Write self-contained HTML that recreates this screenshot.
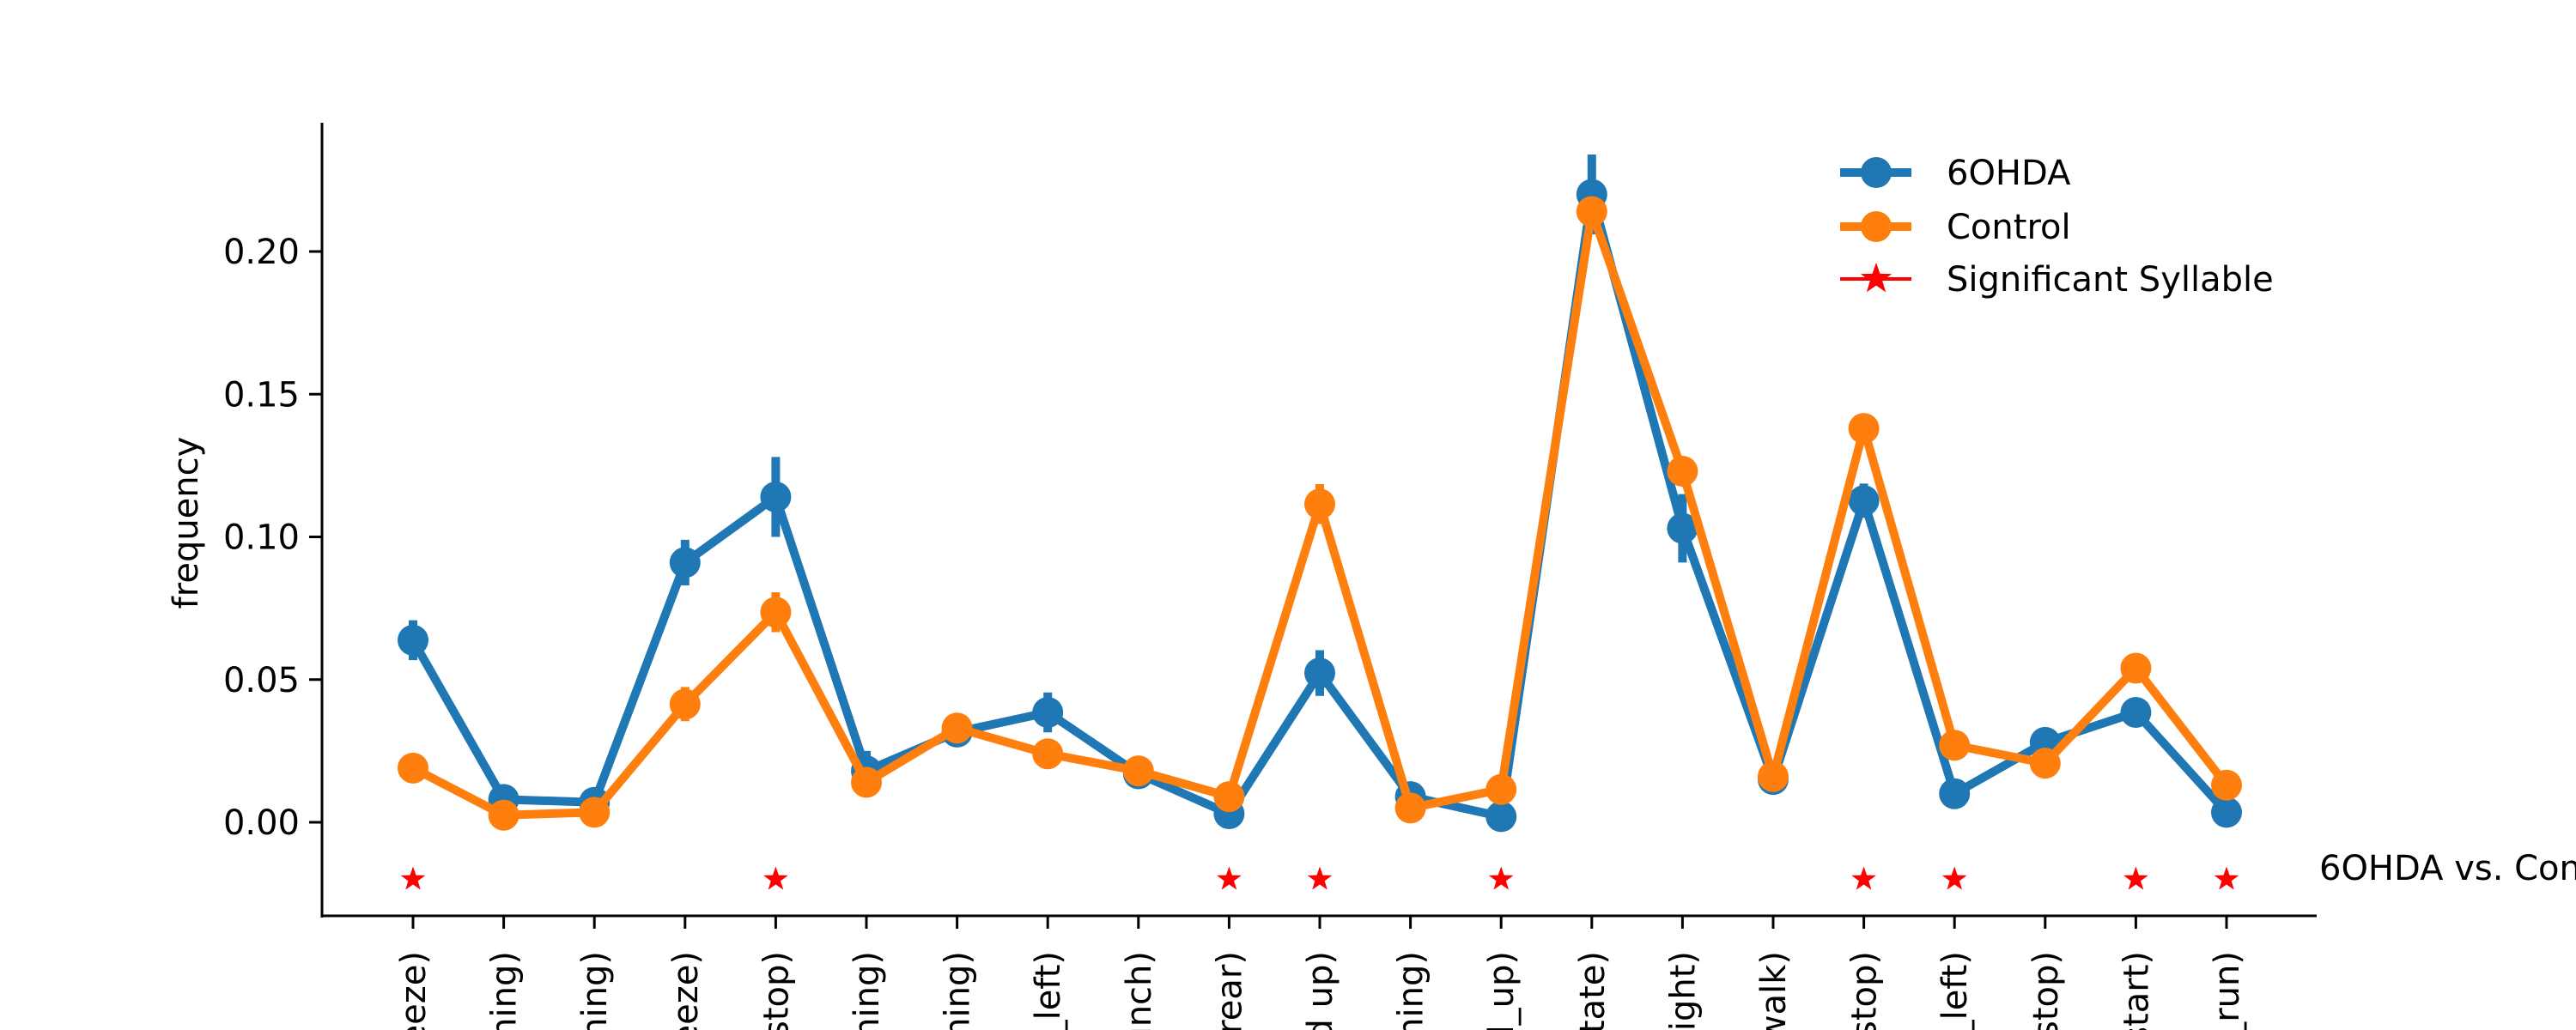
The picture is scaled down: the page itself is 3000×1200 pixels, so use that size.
<!DOCTYPE html>
<html><head><meta charset="utf-8"><style>
html,body{margin:0;padding:0;background:#fff;width:3000px;height:1200px;overflow:hidden}
svg{display:block}
svg text{font-family:"DejaVu Sans","Liberation Sans",sans-serif}
</style></head><body>
<svg id="chart" width="3000" height="1200" viewBox="0 0 3000 1200" xmlns="http://www.w3.org/2000/svg">
<defs><clipPath id="frame"><rect x="0" y="0" width="3000" height="1200"/></clipPath></defs>
<g id="plot" clip-path="url(#frame)"></g>
</svg>
<script>
const categories=["syllable 0 (freeze)","syllable 1 (turning)","syllable 2 (turning)","syllable 3 (freeze)","syllable 4 (stop)","syllable 5 (turning)","syllable 6 (turning)","syllable 7 (turn_left)","syllable 8 (hunch)","syllable 9 (rear)","syllable 10 (head up)","syllable 11 (turning)","syllable 12 (head_up)","syllable 13 (rotate)","syllable 14 (turn right)","syllable 15 (walk)","syllable 16 (stop)","syllable 17 (turn_left)","syllable 18 (stop)","syllable 19 (start)","syllable 20 (fast_run)"];
const ohdaValues=[0.0638,0.008,0.007,0.091,0.114,0.018,0.0316,0.0385,0.017,0.003,0.0523,0.009,0.002,0.220,0.103,0.015,0.1127,0.010,0.028,0.0385,0.0035];
const ohdaErr=[0.007,0.003,0.002,0.008,0.014,0.007,0.003,0.007,0.004,0.002,0.008,0.003,0.002,0.014,0.012,0.002,0.006,0.003,0.003,0.004,0.002];
const controlValues=[0.019,0.0025,0.0035,0.0414,0.0736,0.014,0.033,0.024,0.018,0.009,0.1115,0.005,0.0115,0.214,0.123,0.016,0.138,0.027,0.0207,0.054,0.013];
const controlErr=[0.003,0.002,0.002,0.006,0.007,0.003,0.003,0.002,0.002,0.003,0.007,0.002,0.003,0.004,0.004,0.002,0.004,0.002,0.002,0.003,0.002];
const significant=[1,0,0,0,1,0,0,0,0,1,1,0,1,0,0,0,1,1,0,1,1];
const yTicks=[0.00,0.05,0.10,0.15,0.20];
const yTickLabels=["0.00","0.05","0.10","0.15","0.20"];

const NS="http://www.w3.org/2000/svg";
const L=375,R=2698,T=143,B=1067;
const X0=481,DX=105.6;
function xs(i){return X0+i*DX;}
function ys(v){return 958-v*(958-293)/0.2;}
const g=document.getElementById('plot');
function mk(tag,attrs,parent){const e=document.createElementNS(NS,tag);for(const k in attrs)e.setAttribute(k,attrs[k]);(parent||g).appendChild(e);return e;}

let e=mk('line',{x1:L,y1:T,x2:L,y2:B+2,stroke:'#000','stroke-width':3});


e=mk('line',{x1:L-1,y1:B,x2:R,y2:B,stroke:'#000','stroke-width':3});



yTicks.forEach((v,i)=>{
  const t=mk('line',{x1:L-15,y1:ys(v),x2:L,y2:ys(v),stroke:'#000','stroke-width':3});
  
  
  const tx=mk('text',{x:L-26,y:ys(v)+14,'text-anchor':'end','font-size':40,fill:'#000'});
  tx.textContent=yTickLabels[i];
  
  
});
e=mk('text',{x:230,y:609,'text-anchor':'middle','font-size':40,transform:'rotate(-90 230 609)'});
e.textContent='frequency';



categories.forEach((c,i)=>{
  const t=mk('line',{x1:xs(i),y1:B,x2:xs(i),y2:B+15,stroke:'#000','stroke-width':3});
  
  
  const tx=mk('text',{x:xs(i)+14,y:1108,'text-anchor':'end','font-size':40,transform:`rotate(-90 ${xs(i)+14} 1108)`});
  tx.textContent=c;
  
  
});

function series(vals,errs,color,name){
  const pts=vals.map((v,i)=>xs(i)+','+ys(v)).join(' ');
  const pl=mk('polyline',{points:pts,fill:'none',stroke:color,'stroke-width':10,'stroke-linejoin':'round'});
  
  
  vals.forEach((v,i)=>{
    const el=mk('line',{x1:xs(i),y1:ys(v-errs[i]),x2:xs(i),y2:ys(v+errs[i]),stroke:color,'stroke-width':10});
    
    
  });
  vals.forEach((v,i)=>{
    const c=mk('circle',{cx:xs(i),cy:ys(v),r:18,fill:color});
    
    
  });
}
series(ohdaValues,ohdaErr,'#1f77b4','ohda');
series(controlValues,controlErr,'#ff7f0e','control');

function starPath(cx,cy,r){let d='';for(let k=0;k<10;k++){const rr=k%2?r*0.4:r;const a=-Math.PI/2+k*Math.PI/5;d+=(k?'L':'M')+(cx+rr*Math.cos(a)).toFixed(1)+','+(cy+rr*Math.sin(a)).toFixed(1);}return d+'Z';}
significant.forEach((s,i)=>{
  if(!s)return;
  const p=mk('path',{d:starPath(xs(i),ys(-0.02),15),fill:'#ff0000'});
  
  
});
e=mk('text',{x:2701,y:1025,'font-size':40});
e.textContent='6OHDA vs. Control';



const leg=mk('g',{});


[['6OHDA','#1f77b4',201,'circle'],['Control','#ff7f0e',264,'circle'],['Significant Syllable','#ff0000',325,'star']].forEach(([lab,col,y,m])=>{
  const ent=mk('g',{},leg);
  
  
  mk('line',{x1:2143,y1:y,x2:2226,y2:y,stroke:col,'stroke-width':m==='star'?4:10},ent);
  if(m==='circle')mk('circle',{cx:2185,cy:y,r:18,fill:col},ent);
  else mk('path',{d:starPath(2185,y,19),fill:col},ent);
  const t=mk('text',{x:2267,y:y+14,'font-size':40},ent);
  t.textContent=lab;
});
</script>
</body></html>
